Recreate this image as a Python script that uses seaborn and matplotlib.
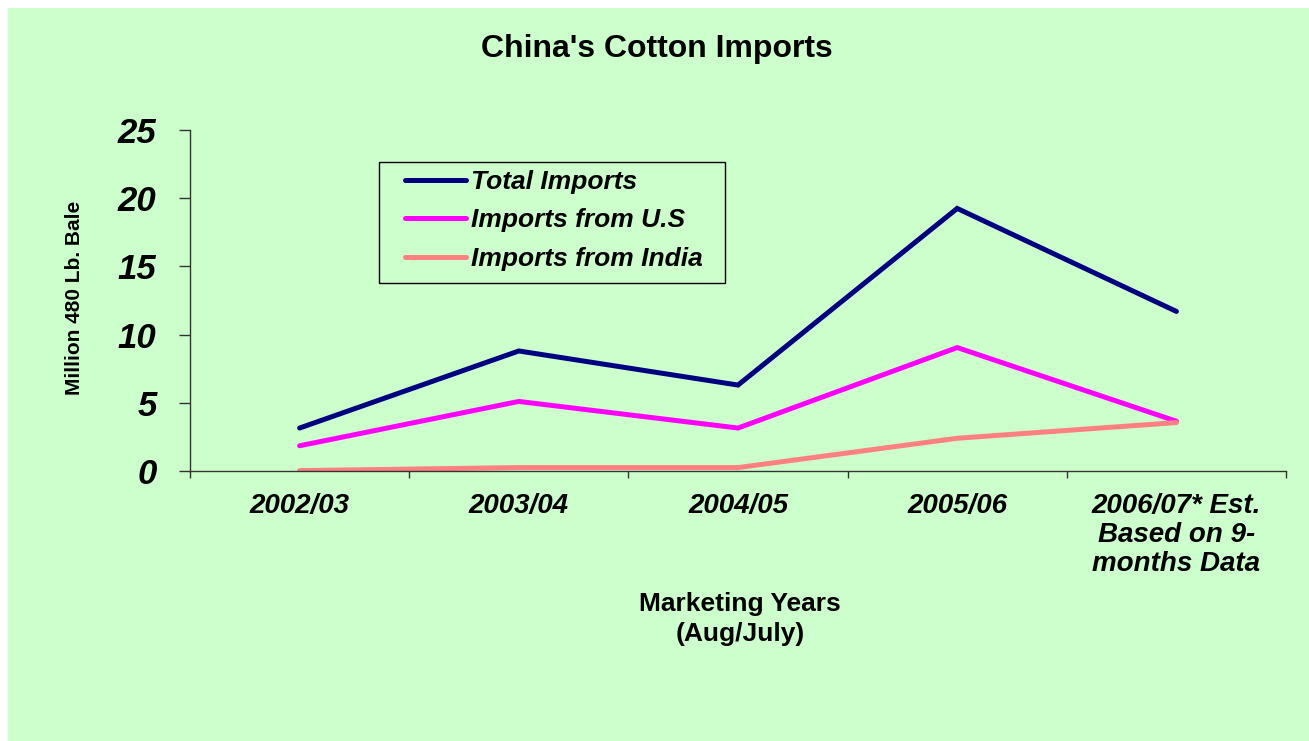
import matplotlib
matplotlib.use("Agg")
import matplotlib.pyplot as plt
import matplotlib.patches as mpatches
import seaborn as sns
import pandas as pd

# Marketing years (Aug/July) and imports in million 480 lb. bales
years = ["2002/03", "2003/04", "2004/05", "2005/06",
         "2006/07* Est.\nBased on 9-\nmonths Data"]
total_imports = [3.15, 8.8, 6.3, 19.25, 11.7]
imports_us = [1.85, 5.1, 3.15, 9.05, 3.65]
imports_india = [0.03, 0.25, 0.25, 2.4, 3.55]
series_names = ["Total Imports", "Imports from U.S", "Imports from India"]
series_colors = ["#000080", "#FF00FF", "#FF8080"]
y_ticks = [0, 5, 10, 15, 20, 25]

df = pd.DataFrame({
    "year": years * 3,
    "value": total_imports + imports_us + imports_india,
    "series": [series_names[0]] * 5 + [series_names[1]] * 5 + [series_names[2]] * 5,
})

sns.set_theme(style="white")
plt.rcParams["font.family"] = ["Liberation Sans", "DejaVu Sans"]
plt.rcParams["text.color"] = "black"
plt.rcParams["xtick.color"] = "black"
plt.rcParams["ytick.color"] = "black"

BG = "#CCFFCC"
W, H = 1309, 741
fig = plt.figure(figsize=(W / 100, H / 100), dpi=100, facecolor="white")
fig.patches.append(mpatches.Rectangle((8 / W, 0), 1, 1 - 8 / H,
                                      transform=fig.transFigure,
                                      facecolor=BG, edgecolor="none", zorder=-10))

ax = fig.add_axes([190 / W, 1 - 471 / H, (1286 - 190) / W, (471 - 130) / H])
ax.set_facecolor(BG)

sns.lineplot(data=df, x="year", y="value", hue="series", hue_order=series_names,
             palette=series_colors, linewidth=3.6, sort=False, ax=ax,
             solid_capstyle="round", solid_joinstyle="miter")

ax.set_xlim(-0.5, 4.5)
ax.set_ylim(0, 25)
for side in ["top", "right"]:
    ax.spines[side].set_visible(False)
for side in ["left", "bottom"]:
    ax.spines[side].set_color("#333333")
    ax.spines[side].set_linewidth(1.0)

# y axis
ax.set_yticks(y_ticks)
ax.set_yticklabels([str(v) for v in y_ticks], fontsize=25, fontweight="bold",
                   fontstyle="italic", color="black")
ax.tick_params(axis="y", which="major", direction="out", length=8, width=1,
               color="#333333", pad=16, left=True)

# x axis: boundary ticks without labels, category labels centred between them
ax.set_xticks([i - 0.5 for i in range(6)])
ax.set_xticklabels([])
ax.tick_params(axis="x", which="major", direction="out", length=5, width=1,
               color="#333333", bottom=True)
ax.set_xticks(range(5), minor=True)
ax.set_xticklabels(years, minor=True, fontsize=20, fontweight="bold",
                   fontstyle="italic", linespacing=1.15, ha="center", va="top",
                   color="black")
ax.tick_params(axis="x", which="minor", length=0, pad=15.5)
ax.set_xlabel("")
ax.set_ylabel("")
ax.grid(False)

# legend entries, with a separate rectangular frame around them
handles, labels = ax.get_legend_handles_labels()
leg = ax.legend(handles, labels, loc="upper left",
                bbox_to_anchor=(405 / W, 1 - 170 / H),
                bbox_transform=fig.transFigure,
                prop={"size": 19, "weight": "bold", "style": "italic"},
                frameon=False, handlelength=2.3,
                handletextpad=0.22, labelspacing=0.545, borderpad=0,
                borderaxespad=0)
for line in leg.get_lines():
    line.set_linewidth(3.6)
    line.set_solid_capstyle("round")
for txt in leg.get_texts():
    txt.set_color("black")
fig.patches.append(mpatches.Rectangle((379 / W, 1 - 283 / H), (725 - 379) / W,
                                      (283 - 162) / H, transform=fig.transFigure,
                                      facecolor="none", edgecolor="black",
                                      linewidth=1.0, zorder=5))

# titles
fig.text(657 / W, 1 - 49 / H, "China's Cotton Imports", ha="center",
         va="center", fontsize=23, fontweight="bold", color="black")
fig.text(740 / W, 1 - 619 / H, "Marketing Years\n(Aug/July)", ha="center",
         va="center", fontsize=19, fontweight="bold", linespacing=1.32,
         color="black")
fig.text(75 / W, 1 - 298 / H, "Million 480 Lb. Bale", ha="center",
         va="center", rotation=90, fontsize=15, fontweight="bold",
         color="black")

fig.savefig("out.png", dpi=100, facecolor=fig.get_facecolor())
